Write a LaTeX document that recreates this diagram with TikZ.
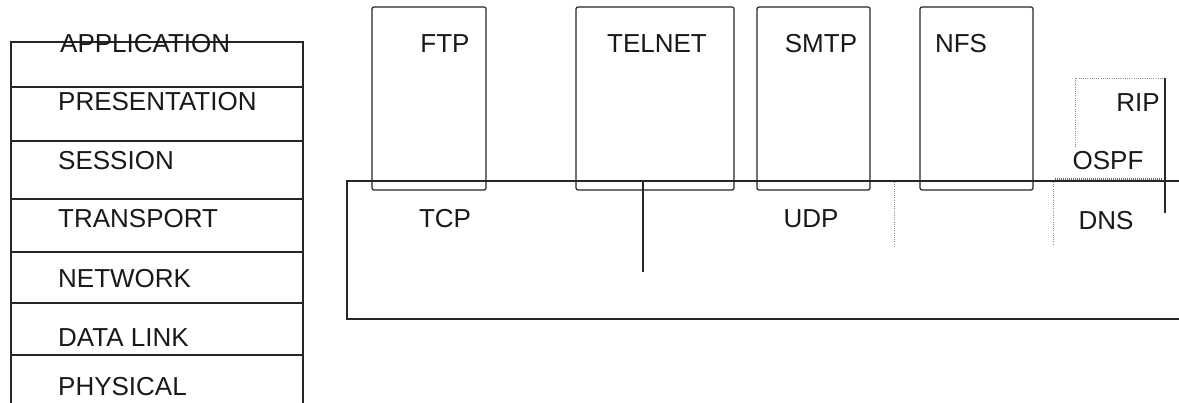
\documentclass[tikz,border=0pt]{standalone}
\usepackage{fontspec}
\setmainfont{Liberation Sans}
\begin{document}
\begin{tikzpicture}[x=1pt,y=-1pt,
  ln/.style={draw=black!85,line width=1.2pt},
  dotln/.style={draw=black!45,line width=0.9pt,dash pattern=on 1pt off 1.2pt},
  thickdot/.style={draw=black!60,line width=2pt,dash pattern=on 1pt off 1pt},
  appbox/.style={ln,rounded corners=2pt},
  lbl/.style={inner sep=0pt,text=black!90,font=\fontsize{26}{30}\selectfont},
  layer/.style={lbl,anchor=base west}]
\useasboundingbox (0,0) rectangle (1179,403);
\fill[white] (0,0) rectangle (1179,403);
% OSI stack
\draw[ln] (11,403) -- (11,42) -- (303,42) -- (303,403);
\foreach \yy in {87,141,199,252,303,355} \draw[ln] (11,\yy) -- (303,\yy);
\node[layer] (app) at (60,53) {APPLICATION};
\node[layer] (pres) at (58,111) {PRESENTATION};
\node[layer] (sess) at (58,170) {SESSION};
\node[layer] (trans) at (58,228) {TRANSPORT};
\node[layer] (net) at (58,288) {NETWORK};
\node[layer] (dl) at (58,347) {DATA LINK};
\node[layer] (phys) at (58,396) {PHYSICAL};
% transport box
\draw[ln] (1179,181) -- (347,181) -- (347,319) -- (1179,319);
% application boxes
\draw[appbox] (372,7) rectangle (486,190);
\draw[appbox] (576,7) rectangle (734,190);
\draw[appbox] (757,7) rectangle (870,190);
\draw[appbox] (920,7) rectangle (1033,190);
\draw[ln] (1179,181) -- (347,181);
\node[lbl,anchor=base] (ftp) at (445,53) {FTP};
\node[lbl,anchor=base] (telnet) at (657,53) {TELNET};
\node[lbl,anchor=base] (smtp) at (821,53) {SMTP};
\node[lbl,anchor=base] (nfs) at (961,53) {NFS};
% TCP divider
\coordinate (tdtop) at (643,181);
\coordinate (tdbot) at (643,272);
\draw[ln] (tdtop) -- (tdbot);
\node[lbl,anchor=base] (tcp) at (445,228) {TCP};
\node[lbl,anchor=base] (udp) at (811,228) {UDP};
\node[lbl,anchor=base] (dns) at (1106,230) {DNS};
% dotted separators
\draw[dotln] (894,182) -- (894,248);
\draw[dotln] (1053,182) -- (1053,245);
\draw[thickdot] (1055,179) -- (1163,179);
% RIP / OSPF
\draw[dotln] (1075,147) -- (1075,78) -- (1165,78);
\draw[ln] (1165,78) -- (1165,213);
\node[lbl,anchor=base] (rip) at (1138,112) {RIP};
\node[lbl,anchor=base] (ospf) at (1108,170) {OSPF};
\end{tikzpicture}
\end{document}
